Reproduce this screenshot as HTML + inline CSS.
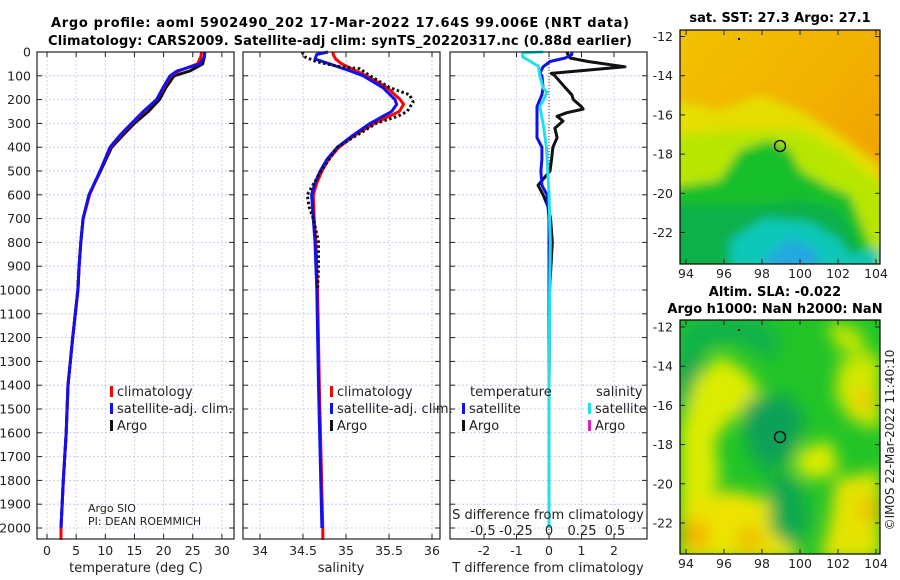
<!DOCTYPE html>
<html><head><meta charset="utf-8"><style>
html,body{margin:0;padding:0;background:#fff;}
svg{display:block;font-family:"DejaVu Sans","Liberation Sans",sans-serif;}
</style></head><body>
<svg id="fig" width="900" height="580" viewBox="0 0 900 580" xmlns="http://www.w3.org/2000/svg">
<defs>
<filter id="blur6" x="-20%" y="-20%" width="140%" height="140%"><feGaussianBlur stdDeviation="5"/></filter>
<filter id="blur10" x="-20%" y="-20%" width="140%" height="140%"><feGaussianBlur stdDeviation="8"/></filter>
<clipPath id="clipMap1"><rect x="680" y="30" width="200" height="234"/></clipPath>
<clipPath id="clipMap2"><rect x="680" y="320" width="200" height="234"/></clipPath>
<linearGradient id="sstTop" x1="0" y1="0" x2="1" y2="1"><stop offset="0" stop-color="#f2c200"/><stop offset="0.5" stop-color="#f2b000"/><stop offset="1" stop-color="#f09800"/></linearGradient>
</defs>
<text x="340" y="27" text-anchor="middle" font-weight="bold" font-size="13" textLength="578">Argo profile: aoml 5902490_202 17-Mar-2022 17.64S 99.006E (NRT data)</text>
<text x="340" y="45" text-anchor="middle" font-weight="bold" font-size="13" textLength="584">Climatology: CARS2009. Satellite-adj clim: synTS_20220317.nc (0.88d earlier)</text>

<!-- Map 1: SST -->
<g clip-path="url(#clipMap1)">
<rect x="680" y="30" width="200" height="234" fill="url(#sstTop)"/>
<g filter="url(#blur6)">
<path d="M670 100 L720 110 L760 95 L800 110 L840 135 L880 165 L890 270 L670 270Z" fill="#e6de00"/>
<path d="M670 135 L740 130 L800 130 L840 150 L870 175 L890 190 L890 270 L670 270Z" fill="#b8e600"/>
<path d="M670 188 L720 180 L740 150 L770 140 L790 150 L800 170 L825 185 L850 195 L860 220 L872 250 L880 270 L670 270Z" fill="#18c02a"/>
<path d="M670 205 L760 205 L800 200 L840 210 L855 240 L865 270 L670 270Z" fill="#10b048"/>
<path d="M730 240 L765 218 L810 222 L840 240 L850 255 L880 248 L880 270 L730 270Z" fill="#10c8b8"/>
<path d="M765 258 L790 238 L815 248 L822 270 L765 270Z" fill="#20a8e0"/>
</g>
</g>
<rect x="680" y="30" width="200" height="234" fill="none" stroke="#000" stroke-width="1.2"/>
<circle cx="780" cy="146" r="5.5" fill="none" stroke="#000" stroke-width="1.3"/>
<rect x="738" y="38" width="2" height="2" fill="#000"/>
<text x="780" y="22" text-anchor="middle" font-weight="bold" font-size="13">sat. SST: 27.3 Argo: 27.1</text>

<!-- Map 2: SLA -->
<g clip-path="url(#clipMap2)">
<rect x="680" y="320" width="200" height="234" fill="#22c428"/>
<g filter="url(#blur10)">
<path d="M700 320 L760 320 L780 340 L770 360 L740 340 L700 345 L680 370 L680 330Z" fill="#10b050"/>
<path d="M680 365 L705 350 L680 420Z" fill="#10a058"/>
<path d="M695 380 L720 355 L745 370 L760 390 L755 405 L730 420 L715 440 L720 480 L700 510 L680 520 L680 430Z" fill="#dcec00"/>
<path d="M680 500 L730 490 L770 500 L790 530 L800 560 L680 560Z" fill="#ece400"/>
<circle cx="695" cy="535" r="15" fill="#f2b400"/>
<circle cx="750" cy="540" r="14" fill="#f0c000"/>
<path d="M830 320 L860 330 L870 360 L840 350 L830 335Z" fill="#c4e800"/>
<path d="M840 360 L880 355 L880 430 L850 420 L835 395Z" fill="#d4e800"/>
<circle cx="865" cy="400" r="10" fill="#f0c800"/>
<path d="M800 450 L830 440 L840 470 L815 480 L795 470Z" fill="#dcec00"/>
<path d="M835 480 L880 470 L880 560 L820 560 L830 520Z" fill="#e4e400"/>
<circle cx="870" cy="510" r="12" fill="#f0c000"/>
<path d="M745 400 L790 395 L805 420 L790 460 L760 470 L745 440Z" fill="#10a058"/>
<path d="M770 470 L800 480 L810 520 L795 550 L770 530Z" fill="#10a850"/>
</g>
</g>
<rect x="680" y="320" width="200" height="234" fill="none" stroke="#000" stroke-width="1.2"/>
<circle cx="780" cy="437" r="5.5" fill="none" stroke="#000" stroke-width="1.3"/>
<rect x="738" y="329" width="2" height="2" fill="#000"/>
<text x="775" y="296" text-anchor="middle" font-weight="bold" font-size="13">Altim. SLA: -0.022</text>
<text x="775" y="313" text-anchor="middle" font-weight="bold" font-size="13">Argo h1000: NaN h2000: NaN</text>
<text transform="translate(894,440) rotate(-90)" text-anchor="middle" font-size="12" fill="#222">©IMOS 22-Mar-2022 11:40:10</text>

<g id="charts"></g>
</svg>
<script>
// ---- data ----
const depthTicks = [0,100,200,300,400,500,600,700,800,900,1000,1100,1200,1300,1400,1500,1600,1700,1800,1900,2000];
const tempTicks = [0,5,10,15,20,25,30];
const salTicks = [34,34.5,35,35.5,36];
const salTickLabels = ["34","34.5","35","35.5","36"];
const tdiffTicks = [-2,-1,0,1,2];
const sdiffTicks = [-0.5,-0.25,0,0.25,0.5];
const sdiffTickLabels = ["-0.5","-0.25","0","0.25","0.5"];
const latTicks = [-12,-14,-16,-18,-20,-22];
const lonTicks = [94,96,98,100,102,104];

const tDepth = [0,20,50,80,100,150,200,250,300,350,400,500,600,700,800,900,1000,1200,1400,1600,1800,2000];
const tClim  = [26.5,26.4,25.8,22.6,21.2,20.0,18.8,16.6,14.6,12.6,10.9,9.1,7.3,6.2,5.8,5.5,5.3,4.4,3.6,3.3,2.8,2.4];
const tSat   = [27.1,27.0,26.2,22.3,21.1,19.9,18.8,16.5,14.5,12.5,10.8,9.1,7.2,6.2,5.8,5.5,5.3,4.4,3.6,3.3,2.8,2.4];
const tArgo  = [27.0,27.0,26.7,24.5,21.8,20.4,19.3,17.4,15.0,13.0,11.1,9.2,7.2,6.2,5.8,5.5,5.3,4.4,3.6,3.3,2.8,2.4];
const climTailDepth = [2000,2050];
const tClimTail = [2.4,2.4];
const sClimTail = [34.73,34.73];

const sDepth = [0,10,30,50,80,100,150,200,220,250,300,350,400,450,500,550,600,700,800,1000,1400,2000];
const sClim  = [34.85,34.85,34.88,34.95,35.12,35.24,35.48,35.63,35.67,35.62,35.33,35.1,34.92,34.8,34.72,34.66,34.62,34.63,34.65,34.67,34.69,34.73];
const sSat   = [34.79,34.66,34.64,34.81,35.05,35.2,35.43,35.57,35.59,35.53,35.28,35.08,34.9,34.78,34.7,34.64,34.6,34.62,34.64,34.66,34.68,34.72];
const sArgoDepth = [0,20,40,60,70,100,150,180,210,250,270,300,400,500,600,650,700,800,900,1000];
const sArgo  = [34.49,34.52,34.65,34.9,35.16,35.28,35.51,35.74,35.78,35.71,35.6,35.35,34.9,34.71,34.55,34.57,34.62,34.68,34.68,34.67];

const dDepth = [0,10,25,40,62,90,100,150,180,200,230,240,255,270,290,320,360,400,450,500,560,600,650,700,800,1000,1400,2000];
const dTArgo = [0.55,0.58,0.65,1.2,2.34,0.07,0.18,0.5,0.7,0.75,1.0,1.05,0.55,0.25,0.43,0.18,0.25,0.12,0.08,0.03,-0.34,-0.18,-0.03,0.05,0.1,0.02,0.0,0.0];
const dTSat  = [0.7,0.7,0.5,0.03,-0.18,-0.28,-0.22,-0.18,-0.22,-0.28,-0.37,-0.37,-0.37,-0.37,-0.37,-0.37,-0.37,-0.22,-0.22,-0.25,-0.22,-0.06,-0.03,0.0,0.0,0.0,0.0,0.0];
const sdDepth = [0,3,20,40,60,100,150,170,200,230,300,400,500,600,800,1000,1400,2000];
const dSSat   = [-0.045,-0.2,-0.2,-0.14,-0.08,-0.07,-0.045,-0.015,-0.04,-0.07,-0.045,-0.02,-0.01,0,0.01,0.005,0,0];

// ---- helpers ----
const NS = "http://www.w3.org/2000/svg";
const root = document.getElementById('charts');
function mk(tag, attrs, parent){ const e=document.createElementNS(NS,tag); for(const k in attrs) e.setAttribute(k,attrs[k]); (parent||root).appendChild(e); return e; }
const Y0 = 52, Y1 = 539;
const yD = d => Y0 + d*0.238;

const panels = [
  {x0:37, x1:234, xs: v => 47 + v*5.83},
  {x0:243, x1:440, xs: v => 260 + (v-34)*86},
  {x0:450, x1:647, xs: v => 549 + v*32.5}
];
const sdx = v => 549 + v*132;

function grid(p, ticks){
  const g = mk('g',{});
  
  
  depthTicks.forEach(d=>{ mk('line',{x1:p.x0,x2:p.x1,y1:yD(d),y2:yD(d),stroke:'#b8c4e8','stroke-width':0.8,'stroke-dasharray':'2,2'},g); });
  ticks.forEach(t=>{ const x=p.xs(t); mk('line',{x1:x,x2:x,y1:Y0,y2:Y1,stroke:'#c8c4e0','stroke-width':0.8,'stroke-dasharray':'2,2'},g); });
}
function frame(p, ticks){
  const g = mk('g',{});
  
  
  mk('rect',{x:p.x0,y:Y0,width:p.x1-p.x0,height:Y1-Y0,fill:'none',stroke:'#222','stroke-width':1.2},g);
  depthTicks.forEach(d=>{ mk('line',{x1:p.x0,x2:p.x0+5,y1:yD(d),y2:yD(d),stroke:'#222'},g); mk('line',{x1:p.x1-5,x2:p.x1,y1:yD(d),y2:yD(d),stroke:'#222'},g); });
  ticks.forEach(t=>{ const x=p.xs(t); mk('line',{x1:x,x2:x,y1:Y1,y2:Y1-5,stroke:'#222'},g); mk('line',{x1:x,x2:x,y1:Y0,y2:Y0+5,stroke:'#222'},g); });
}
function line(xs, ds, vals, color, width, dash, name){
  const pts = vals.map((v,i)=> xs(v).toFixed(1)+','+yD(ds[i]).toFixed(1)).join(' ');
  const e = mk('polyline',{points:pts,fill:'none',stroke:color,'stroke-width':width,'stroke-linejoin':'round'});
  if(dash) e.setAttribute('stroke-dasharray',dash);
  
  
}
function text(x,y,s,opts){
  const e = mk('text',Object.assign({x:x,y:y,'font-size':12.5,fill:'#222'},opts||{}));
  e.textContent = s;
  return e;
}
function legendItem(x,y,color,label){
  const r = mk('rect',{x:x,y:y-10,width:3,height:11,fill:color});
  
  
  const t = text(x+7,y,label,{'font-size':13});
  
  
}

// grids
grid(panels[0], tempTicks);
grid(panels[1], salTicks);
grid(panels[2], tdiffTicks);

// panel 1 temperature
line(panels[0].xs, tDepth, tArgo, '#111', 3, null, 'temp-argo-line');
line(panels[0].xs, tDepth, tClim, '#f00', 3, null, 'temp-climatology-line');
line(panels[0].xs, climTailDepth, tClimTail, '#f00', 3, null, 'temp-climatology-tail');
line(panels[0].xs, tDepth, tSat, '#1010f0', 3, null, 'temp-satellite-line');
// panel 2 salinity
line(panels[1].xs, sDepth, sClim, '#f00', 3, null, 'sal-climatology-line');
line(panels[1].xs, climTailDepth, sClimTail, '#f00', 3, null, 'sal-climatology-tail');
line(panels[1].xs, sDepth, sSat, '#1010f0', 3, null, 'sal-satellite-line');
line(panels[1].xs, sArgoDepth, sArgo, '#111', 3, '2.5,2.5', 'sal-argo-line');
// panel 3 differences
mk('line',{x1:549,x2:549,y1:Y0,y2:Y1,stroke:'#333','stroke-width':1,'stroke-dasharray':'1,2'});
line(panels[2].xs, dDepth, dTArgo, '#111', 3, null, 'tdiff-argo-line');
line(panels[2].xs, dDepth, dTSat, '#1010e8', 3, null, 'tdiff-satellite-line');
line(sdx, sdDepth, dSSat, '#20e0f0', 3, null, 'sdiff-satellite-line');

frame(panels[0], tempTicks);
frame(panels[1], salTicks);
frame(panels[2], tdiffTicks);

// depth labels
depthTicks.forEach(d=>{ const t=text(31,yD(d)+4.5,String(d),{'text-anchor':'end'});   });
// x tick labels
tempTicks.forEach(v=>{ const t=text(panels[0].xs(v),555,String(v),{'text-anchor':'middle'});   });
salTicks.forEach((v,i)=>{ const t=text(panels[1].xs(v),555,salTickLabels[i],{'text-anchor':'middle'});   });
tdiffTicks.forEach(v=>{ const t=text(panels[2].xs(v),555,String(v),{'text-anchor':'middle'});   });
sdiffTicks.forEach((v,i)=>{ const t=text(sdx(v),535,sdiffTickLabels[i],{'text-anchor':'middle','font-size':13});   });

let t;
t=text(136,572,'temperature (deg C)',{'text-anchor':'middle','font-size':13});  
t=text(341,572,'salinity',{'text-anchor':'middle','font-size':13});  
t=text(548,572,'T difference from climatology',{'text-anchor':'middle','font-size':13});  
t=text(548,519,'S difference from climatology',{'text-anchor':'middle','font-size':13});  
t=text(88,512,'Argo SIO',{'font-size':11});  
t=text(88,525,'PI: DEAN ROEMMICH',{'font-size':11});  

legendItem(110,396,'#f00','climatology');
legendItem(110,413,'#1010f0','satellite-adj. clim.');
legendItem(110,430,'#111','Argo');
legendItem(330,396,'#f00','climatology');
legendItem(330,413,'#1010f0','satellite-adj. clim.');
legendItem(330,430,'#111','Argo');
t=text(470,396,'temperature',{'font-size':13});  
t=text(596,396,'salinity',{'font-size':13});  
legendItem(462,413,'#1010f0','satellite');
legendItem(462,430,'#111','Argo');
legendItem(588,413,'#20e0f0','satellite');
legendItem(588,430,'#e020d0','Argo');

// map ticks
function mapAxes(top, latY0){
  const lat = v => latY0 + (-12 - v)*19.6;
  latTicks.forEach(v=>{
    const y = lat(v);
    mk('line',{x1:680,x2:685,y1:y,y2:y,stroke:'#222'}); mk('line',{x1:875,x2:880,y1:y,y2:y,stroke:'#222'});
    const e=text(673,y+4.5,String(v),{'text-anchor':'end'});  
  });
  lonTicks.forEach(v=>{
    const x = 686 + (v-94)*19;
    mk('line',{x1:x,x2:x,y1:top+234,y2:top+229,stroke:'#222'}); mk('line',{x1:x,x2:x,y1:top,y2:top+5,stroke:'#222'});
    const e=text(x,top+248,String(v),{'text-anchor':'middle'});  
  });
}
mapAxes(30, 36.5);
mapAxes(320, 327);
</script>
</body></html>
